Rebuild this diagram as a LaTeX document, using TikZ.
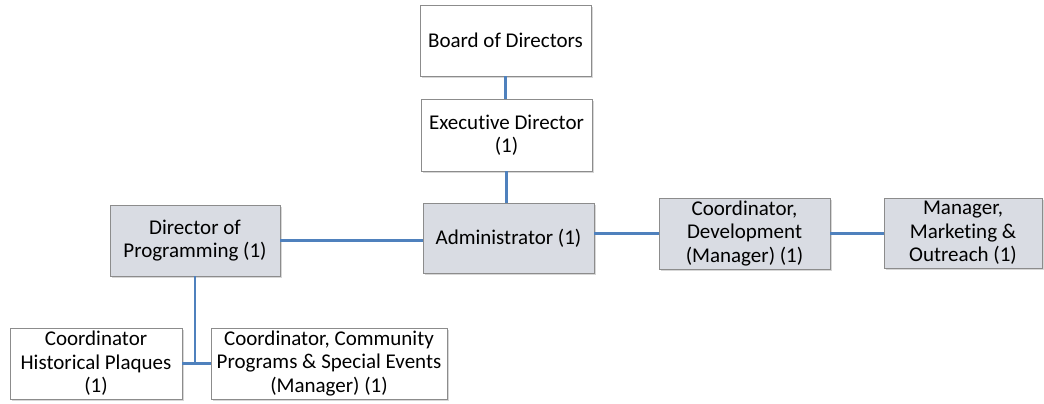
\documentclass[tikz,border=0pt]{standalone}
\usepackage{fontspec}
\setmainfont{Carlito}[Ligatures=NoCommon]
\usetikzlibrary{shadows}
\definecolor{linkblue}{HTML}{4F81BD}
\definecolor{boxgrey}{HTML}{D9DCE3}
\definecolor{edgegrey}{HTML}{8C8C8C}
\begin{document}
\begin{tikzpicture}[x=1pt,y=-1pt,
  orgbox/.style={draw=edgegrey, line width=0.8pt, fill=white, align=center,
    inner sep=1pt, font=\fontsize{21}{23.5}\selectfont,
    drop shadow={shadow xshift=2pt, shadow yshift=-2pt, fill=black!22, opacity=0.7}},
  greybox/.style={orgbox, fill=boxgrey},
  link/.style={draw=linkblue, line width=2.8pt}]
\useasboundingbox (0,0) rectangle (1044,404);
\fill[white] (0,0) rectangle (1044,404);

\node[orgbox, minimum width=171pt, minimum height=71pt] (board) at (505.5,40.5) {Board of Directors};
\node[orgbox, minimum width=171pt, minimum height=72pt] (exec) at (506.5,135) {Executive Director\\(1)};
\node[greybox, minimum width=171pt, minimum height=70pt] (admin) at (508.5,238) {Administrator (1)};
\node[greybox, minimum width=170pt, minimum height=71pt] (dirprog) at (195,240.5) {Director of\\Programming (1)};
\node[greybox, minimum width=171pt, minimum height=71pt] (coorddev) at (744.5,233.5) {Coordinator,\\Development\\(Manager) (1)};
\node[greybox, minimum width=158pt, minimum height=70pt] (mgr) at (963,233) {Manager,\\Marketing \&\\Outreach (1)};
\node[orgbox, minimum width=172pt, minimum height=71pt] (hist) at (96,363.5) {Coordinator\\Historical Plaques\\(1)};
\node[orgbox, minimum width=236pt, minimum height=71pt] (comm) at (329,363.5) {Coordinator, Community\\Programs \& Special Events\\(Manager) (1)};

\coordinate (junc) at (dirprog.south |- hist.east);

\draw[link] (board.south) -- (board.south |- exec.north);
\draw[link] (exec.south) -- (exec.south |- admin.north);
\draw[link] (dirprog.east) -- (dirprog.east -| admin.west);
\draw[link] (coorddev.west -| admin.east) -- (coorddev.west);
\draw[link] (coorddev.east) -- (coorddev.east -| mgr.west);
\draw[link] (dirprog.south) -- (junc);
\draw[link] (hist.east) -- (comm.west);
\end{tikzpicture}
\end{document}
